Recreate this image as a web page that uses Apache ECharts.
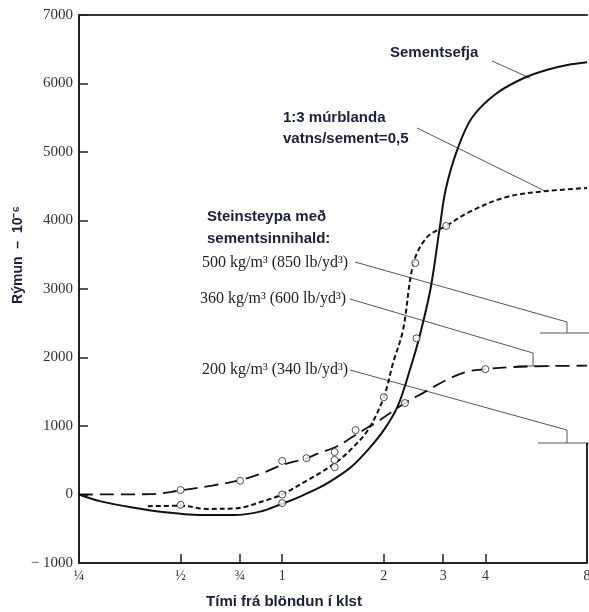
<!DOCTYPE html>
<html>
<head>
<meta charset="utf-8">
<script src="https://cdn.jsdelivr.net/npm/echarts@6/dist/echarts.min.js"></script>
<style>
  html, body { margin: 0; padding: 0; background: #fff; }
  #main { width: 589px; height: 612px; }
</style>
</head>
<body>
<div id="main"></div>
<script>
// tími í klst (log ás) og rýmun x 10^-6
const xTicks = [0.25, 0.5, 0.75, 1, 2, 3, 4, 8];
const xTickLabels = ['¼', '½', '¾', '1', '2', '3', '4', '8'];

// sementsefja (heil lína)
const pasteT = [0.25, 0.29, 0.36, 0.45, 0.57, 0.72, 0.86, 1.0, 1.13, 1.3, 1.45, 1.6, 1.8, 2.0, 2.2, 2.4, 2.55, 2.75, 2.93, 3.05, 3.3, 3.65, 4.3, 5.2, 6.1, 7, 8];
const pasteV = [0, -100, -190, -260, -298, -300, -250, -135, -30, 110, 250, 400, 660, 940, 1290, 1850, 2300, 3000, 3900, 4450, 5030, 5500, 5850, 6080, 6200, 6270, 6310];
const pasteMarkT = [1.0, 1.43, 2.5];
const pasteMarkV = [-125, 400, 2280];

// 1:3 múrblanda (stutt strik)
const mortarT = [0.4, 0.5, 0.6, 0.72, 0.9, 1.0, 1.19, 1.3, 1.45, 1.6, 1.8, 2.0, 2.13, 2.28, 2.45, 2.69, 3.06, 3.6, 4.6, 5.8, 8];
const mortarV = [-170, -165, -210, -205, -80, 0, 210, 320, 475, 660, 950, 1420, 1920, 2400, 3380, 3760, 3920, 4130, 4340, 4420, 4475];
const mortarMarkT = [0.5, 1.0, 1.43, 2.0, 2.48, 3.06];
const mortarMarkV = [-150, 0, 505, 1420, 3380, 3920];

// steinsteypa 200 kg/m3 (löng strik)
const concreteT = [0.25, 0.41, 0.5, 0.62, 0.75, 0.87, 1.0, 1.18, 1.28, 1.45, 1.59, 1.78, 1.9, 2.09, 2.31, 2.61, 3.06, 3.51, 4.0, 4.8, 6.1, 8];
const concreteV = [0, 5, 60, 130, 210, 310, 430, 530, 600, 700, 820, 970, 1050, 1190, 1335, 1480, 1670, 1790, 1830, 1860, 1875, 1880];
const concreteMarkT = [0.5, 0.75, 1.0, 1.18, 1.43, 1.65, 2.31, 4.0];
const concreteMarkV = [65, 200, 490, 530, 620, 940, 1335, 1830];

const zip = (a, b) => a.map((v, i) => [v, b[i]]);

const ink = '#111';
const navy = '#1b1f3b';
const serif = '"Liberation Serif", "DejaVu Serif", serif';
const sans = '"Liberation Sans", Arial, sans-serif';

function lineSeries(t, v, dash, width) {
  return {
    type: 'line', data: zip(t, v), smooth: 0.35, symbol: 'none', silent: true,
    lineStyle: { color: ink, width: width, type: dash }
  };
}
function markSeries(t, v) {
  return {
    type: 'scatter', data: zip(t, v), symbol: 'circle', symbolSize: 7, silent: true, z: 5,
    itemStyle: { color: '#fff', borderColor: '#222', borderWidth: 1 }
  };
}

const lead = { stroke: '#555', lineWidth: 1 };
function poly(points) {
  return { type: 'polyline', shape: { points: points }, style: lead, silent: true };
}
function label(text, x, y, bold) {
  return {
    type: 'text', x: x, y: y, silent: true,
    style: {
      text: text, fill: bold ? navy : '#222', verticalAlign: 'middle',
      font: bold ? 'bold 15px ' + sans : '16px ' + serif
    }
  };
}

var myChart = echarts.init(document.getElementById('main'));
myChart.setOption({
  animation: false,
  grid: { left: 79, right: 2, top: 15, bottom: 49, outerBoundsMode: 'none', containLabel: false },
  xAxis: [{
    type: 'log', logBase: 2, min: 0.25, max: 8,
    axisLine: { onZero: false, lineStyle: { color: '#222', width: 2 } },
    axisTick: { inside: true, length: 9, customValues: xTicks, lineStyle: { color: '#222', width: 1.5 } },
    axisLabel: {
      customValues: xTicks, margin: 6, color: '#333', fontFamily: serif, fontSize: 14,
      formatter: v => {
        const i = xTicks.findIndex(x => Math.abs(x - v) < 1e-6);
        return i >= 0 ? xTickLabels[i] : '';
      }
    },
    splitLine: { show: false }, minorTick: { show: false }
  }, {
    type: 'log', logBase: 2, min: 0.25, max: 8, position: 'top',
    axisLine: { onZero: false, lineStyle: { color: '#333', width: 2 } },
    axisTick: { show: false }, axisLabel: { show: false }, splitLine: { show: false }
  }],
  yAxis: {
    type: 'value', min: -1000, max: 7000, interval: 1000,
    axisLine: { show: true, onZero: false, lineStyle: { color: '#222', width: 2 } },
    axisTick: { show: true, inside: true, length: 9, lineStyle: { color: '#222', width: 1.5 } },
    axisLabel: {
      margin: 6, color: '#333', fontFamily: serif, fontSize: 15,
      formatter: v => (v < 0 ? '− ' + Math.abs(v) : String(v))
    },
    splitLine: { show: false }
  },
  series: [
    lineSeries(pasteT, pasteV, 'solid', 2),
    lineSeries(mortarT, mortarV, [5, 3], 2),
    lineSeries(concreteT, concreteV, [14, 7], 1.8),
    markSeries(pasteMarkT, pasteMarkV),
    markSeries(mortarMarkT, mortarMarkV),
    markSeries(concreteMarkT, concreteMarkV)
  ],
  graphic: [
    label('Sementsefja', 390, 53, true),
    label('1:3 múrblanda', 283, 118, true),
    label('vatns/sement=0,5', 283, 139, true),
    label('Steinsteypa með', 207, 217, true),
    label('sementsinnihald:', 207, 239, true),
    label('500 kg/m³ (850 lb/yd³)', 202, 263, false),
    label('360 kg/m³ (600 lb/yd³)', 200, 299, false),
    label('200 kg/m³ (340 lb/yd³)', 202, 370, false),
    poly([[492, 61], [530, 78]]),
    poly([[417, 128], [547, 192]]),
    poly([[355, 262], [567, 322], [567, 333]]),
    poly([[540, 333], [589, 333]]),
    poly([[350, 299], [533, 353], [533, 366]]),
    poly([[517, 366], [550, 366]]),
    poly([[350, 370], [567, 430], [567, 443]]),
    poly([[538, 443], [589, 443]]),
    { type: 'line', shape: { x1: 587, y1: 443, x2: 587, y2: 563 }, style: { stroke: '#222', lineWidth: 2 }, silent: true },
    {
      type: 'text', x: 18, y: 255, rotation: Math.PI / 2, silent: true,
      style: { text: 'Rýmun  –  10⁻⁶', fill: navy, align: 'center', verticalAlign: 'middle', font: 'bold 14px ' + sans }
    },
    {
      type: 'text', x: 284, y: 602, silent: true,
      style: { text: 'Tími frá blöndun í klst', fill: navy, align: 'center', verticalAlign: 'middle', font: 'bold 15px ' + sans }
    }
  ]
});
</script>
</body>
</html>
